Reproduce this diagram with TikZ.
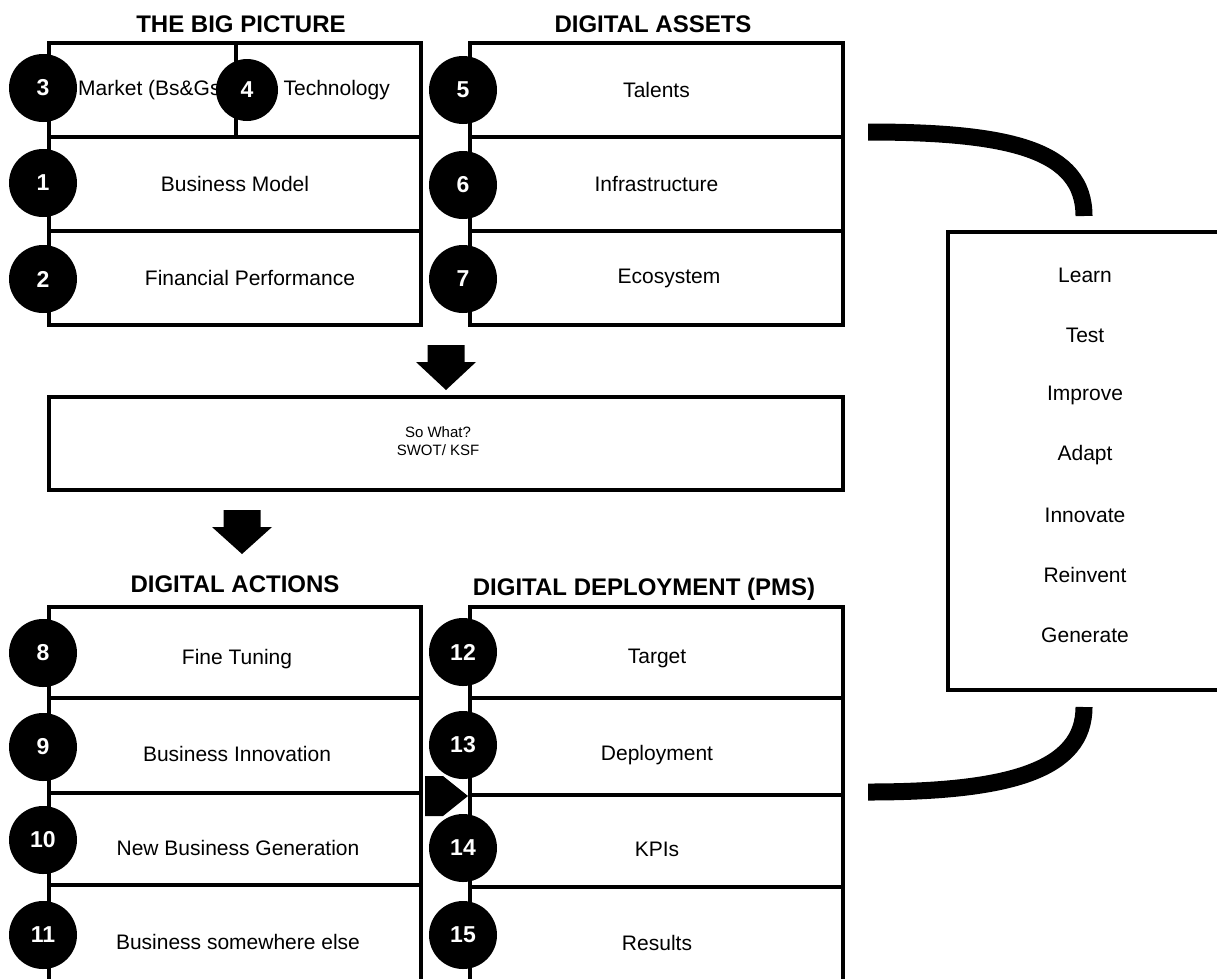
\documentclass[tikz,border=0pt]{standalone}
\usepackage{fontspec}
\setmainfont{Liberation Sans}
\begin{document}
\begin{tikzpicture}[x=1pt,y=-1pt,
  cell/.style={draw, line width=3.5pt, inner sep=0pt, minimum height=94pt, font=\fontsize{21}{25}\selectfont},
  lbl/.style={inner sep=0pt, font=\fontsize{21}{25}\selectfont},
  ttl/.style={inner sep=0pt, font=\bfseries\fontsize{24}{28}\selectfont},
  num/.style={circle, fill=black, minimum size=68pt, inner sep=0pt, text=white, font=\bfseries\fontsize{23}{23}\selectfont},
  loopline/.style={line width=17pt},
  blockarrow/.style={fill=black}
]
\useasboundingbox (0,0) rectangle (1217,978);

% titles
\node[ttl] (t1) at (241,24) {THE BIG PICTURE};
\node[ttl] (t2) at (653,24) {DIGITAL ASSETS};
\node[ttl] (t3) at (235,584) {DIGITAL ACTIONS};
\node[ttl] (t4) at (644,589) {DIGITAL DEPLOYMENT (PMS)};

% the big picture
\node[cell, minimum width=187pt] (mkt) at (142.5,90) {};
\node[cell, minimum width=185pt] (tec) at (328.5,90) {};
\node[lbl, anchor=west] (mktt) at (78,90) {Market (Bs\&Gs)};
\node[lbl, anchor=east] (tect) at (390,90) {Technology};
\node[cell, minimum width=372pt] (bm) at (235,184) {Business Model};
\node[cell, minimum width=372pt] (fp) at (235,278) {\hspace*{30pt}Financial Performance};

% digital assets
\node[cell, minimum width=373pt] (tal) at (656.5,90) {Talents};
\node[cell, minimum width=373pt] (inf) at (656.5,184) {Infrastructure};
\node[cell, minimum width=373pt] (eco) at (656.5,278) {\hspace*{25pt}Ecosystem};

% so what
\node[cell, minimum width=794pt, minimum height=93pt] (sw) at (446,443.5) {};
\node[lbl, align=center, font=\fontsize{15}{18}\selectfont] (swt) at (438,441) {So What?\\SWOT/ KSF};

% digital actions
\node[cell, minimum width=372pt, minimum height=91pt] (ft) at (235,652.5) {};
\node[cell, minimum width=372pt, minimum height=95pt] (bi) at (235,745.5) {};
\node[cell, minimum width=372pt, minimum height=92pt] (nbg) at (235,839) {};
\node[cell, minimum width=372pt, minimum height=105pt] (bse) at (235,937.5) {};
\node[lbl] (ftt) at (237,659) {Fine Tuning};
\node[lbl] (bit) at (237,754) {Business Innovation};
\node[lbl] (nbgt) at (238,848) {New Business Generation};
\node[lbl] (bset) at (238,942) {Business somewhere else};

% digital deployment
\node[cell, minimum width=373pt, minimum height=91pt] (tg) at (656.5,652.5) {};
\node[cell, minimum width=373pt, minimum height=97pt] (dp) at (656.5,746.5) {};
\node[cell, minimum width=373pt, minimum height=92pt] (kpi) at (656.5,841) {};
\node[cell, minimum width=373pt, minimum height=103pt] (res) at (656.5,938.5) {};
\node[lbl] (tgt) at (657,658) {Target};
\node[lbl] (dpt) at (657,755) {Deployment};
\node[lbl] (kpit) at (657,849) {KPIs};
\node[lbl] (rest) at (657,943) {Results};

% block arrows
\coordinate (ar1) at (446,345);
\fill[blockarrow] (ar1) ++(-18.5,0) -- ++(37,0) -- ++(0,17) -- ++(11.5,0) -- ++(-30,28) -- ++(-30,-28) -- ++(11.5,0) -- cycle;
\coordinate (ar2) at (242,510);
\fill[blockarrow] (ar2) ++(-18.5,0) -- ++(37,0) -- ++(0,17) -- ++(11.5,0) -- ++(-30,27) -- ++(-30,-27) -- ++(11.5,0) -- cycle;
\coordinate (ar3) at (425,776);
\fill[blockarrow] (ar3) -- ++(18,0) -- ++(25,20) -- ++(-25,20) -- ++(-18,0) -- cycle;

% number circles
\node[num] (c3) at (43,88) {3};
\node[num, minimum size=62pt] (c4) at (247,90) {4};
\node[num] (c1) at (43,183) {1};
\node[num] (c2) at (43,279) {2};
\node[num] (c5) at (463,90) {5};
\node[num] (c6) at (463,185) {6};
\node[num] (c7) at (463,279) {7};
\node[num] (c8) at (43,653) {8};
\node[num] (c9) at (43,747) {9};
\node[num] (c10) at (43,840) {10};
\node[num] (c11) at (43,935) {11};
\node[num] (c12) at (463,652) {12};
\node[num] (c13) at (463,745) {13};
\node[num] (c14) at (463,848) {14};
\node[num] (c15) at (463,935) {15};

% loop box
\node[draw, line width=3.5pt, minimum width=290pt, minimum height=458pt, inner sep=0pt] (loop) at (1093,461) {};
\node[lbl] (w1) at (1085,275) {Learn};
\node[lbl] (w2) at (1085,335) {Test};
\node[lbl] (w3) at (1085,395) {Improve};
\node[lbl] (w4) at (1085,455) {Adapt};
\node[lbl] (w5) at (1085,515) {Innovate};
\node[lbl] (w6) at (1085,575) {Reinvent};
\node[lbl] (w7) at (1085,635) {Generate};

% loop curves
\coordinate (la) at (868,132);
\coordinate (lb) at (1084,216);
\draw[loopline] (la) .. controls (1010,132) and (1084,150) .. (lb);
\coordinate (lc) at (1084,707);
\coordinate (ld) at (868,792);
\draw[loopline] (lc) .. controls (1084,770) and (1010,792) .. (ld);
\end{tikzpicture}
\end{document}
